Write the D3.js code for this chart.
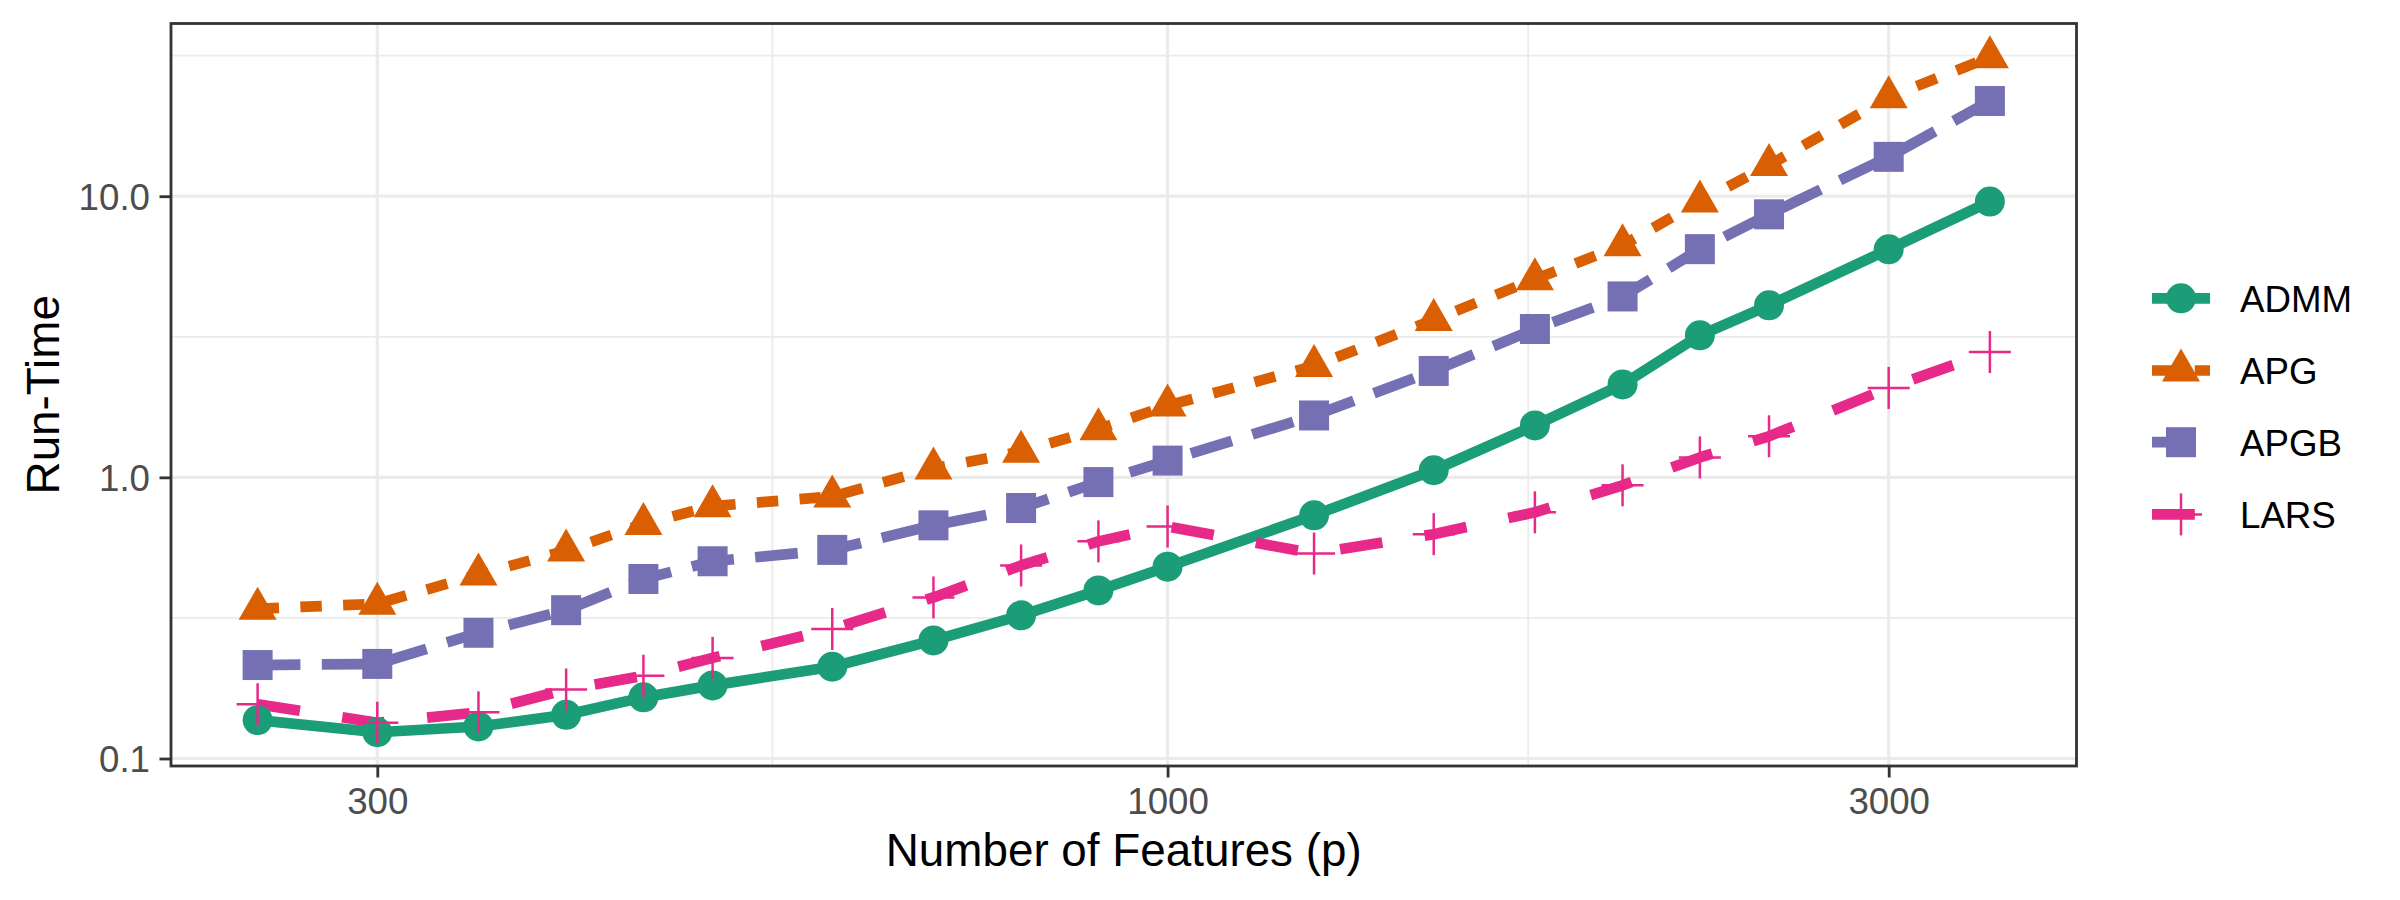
<!DOCTYPE html>
<html>
<head>
<meta charset="utf-8">
<script src="https://cdn.jsdelivr.net/npm/d3@7"></script>
<style>
  html, body { margin: 0; padding: 0; background: #ffffff; }
  svg { display: block; }
  text { font-family: "Liberation Sans", Arial, Helvetica, sans-serif; }
</style>
</head>
<body>
<svg id="chart" width="2400" height="900"></svg>
<script>
// ---------------- data ----------------
const features = [250, 300, 350, 400, 450, 500, 600, 700, 800, 900, 1000, 1250, 1500, 1750, 2000, 2250, 2500, 3000, 3500];
const admm = [0.137, 0.124, 0.130, 0.143, 0.165, 0.182, 0.212, 0.263, 0.323, 0.396, 0.481, 0.733, 1.06, 1.53, 2.14, 3.20, 4.09, 6.47, 9.57];
const apg  = [0.341, 0.355, 0.451, 0.549, 0.683, 0.790, 0.855, 1.076, 1.234, 1.484, 1.80, 2.49, 3.63, 5.07, 6.69, 9.57, 12.9, 22.5, 31.2];
const apgb = [0.215, 0.217, 0.280, 0.337, 0.435, 0.503, 0.552, 0.675, 0.778, 0.962, 1.147, 1.66, 2.39, 3.37, 4.40, 6.48, 8.62, 13.8, 21.8];
const lars = [0.156, 0.134, 0.146, 0.176, 0.197, 0.228, 0.289, 0.374, 0.486, 0.592, 0.669, 0.536, 0.628, 0.751, 0.937, 1.177, 1.40, 2.08, 2.79];
const seriesNames = ["ADMM", "APG", "APGB", "LARS"];
const xTicks = [300, 1000, 3000];
const xMinor = [547.7, 1732.1];
const yTicks = [0.1, 1, 10];
const yTickLabels = ["0.1", "1.0", "10.0"];
const yMinor = [0.3162, 3.162, 31.62];
const xTitle = "Number of Features (p)";
const yTitle = "Run-Time";

// ---------------- styles ----------------
const colors = ["#1B9E77", "#D95F02", "#7570B3", "#E7298A"];
const LW = 10.7;
const dashes = [null, [2 * LW, 2 * LW], [4 * LW, 2 * LW], [4 * LW, 4 * LW]];
const shapes = ["circle", "triangle", "square", "cross"];

const panel = { left: 171, right: 2076.5, top: 23.5, bottom: 766 };

const svg = d3.select("#chart");
svg.append("rect").attr("width", 2400).attr("height", 900).attr("fill", "#ffffff");

const allSeries = [admm, apg, apgb, lars];

// log-space expansion by 5%
function expandLog(lo, hi) {
  const a = Math.log10(lo), b = Math.log10(hi), d = (b - a) * 0.05;
  return [Math.pow(10, a - d), Math.pow(10, b + d)];
}
const xDom = expandLog(d3.min(features), d3.max(features));
const yAll = allSeries.flat();
const yDom = expandLog(d3.min(yAll), d3.max(yAll));

const x = d3.scaleLog().domain(xDom).range([panel.left, panel.right]);
const y = d3.scaleLog().domain(yDom).range([panel.bottom, panel.top]);

const g = svg.append("g");

// grid minor
g.selectAll(".xminor").data(xMinor).join("line")
  .attr("x1", d => x(d)).attr("x2", d => x(d))
  .attr("y1", panel.top).attr("y2", panel.bottom)
  .attr("stroke", "#EBEBEB").attr("stroke-width", 1.8);
g.selectAll(".yminor").data(yMinor).join("line")
  .attr("y1", d => y(d)).attr("y2", d => y(d))
  .attr("x1", panel.left).attr("x2", panel.right)
  .attr("stroke", "#EBEBEB").attr("stroke-width", 1.8);
// grid major
g.selectAll(".xmajor").data(xTicks).join("line")
  .attr("x1", d => x(d)).attr("x2", d => x(d))
  .attr("y1", panel.top).attr("y2", panel.bottom)
  .attr("stroke", "#EBEBEB").attr("stroke-width", 3.2);
g.selectAll(".ymajor").data(yTicks).join("line")
  .attr("y1", d => y(d)).attr("y2", d => y(d))
  .attr("x1", panel.left).attr("x2", panel.right)
  .attr("stroke", "#EBEBEB").attr("stroke-width", 3.2);

// lines
const lineGen = d3.line().x(d => x(d[0])).y(d => y(d[1]));
allSeries.forEach((vals, i) => {
  const pts = features.map((f, j) => [f, vals[j]]);
  const p = g.append("path").attr("d", lineGen(pts))
    .attr("fill", "none").attr("stroke", colors[i])
    .attr("stroke-width", LW).attr("stroke-linejoin", "round").attr("stroke-linecap", "butt");
  if (dashes[i]) p.attr("stroke-dasharray", dashes[i].join(","));
});

function drawMarker(sel, shape, color, cx, cy) {
  if (shape === "circle") {
    sel.append("circle").attr("cx", cx).attr("cy", cy).attr("r", 15).attr("fill", color);
  } else if (shape === "triangle") {
    sel.append("path")
      .attr("d", `M${cx},${cy - 22}L${cx + 19},${cy + 11}L${cx - 19},${cy + 11}Z`)
      .attr("fill", color);
  } else if (shape === "square") {
    sel.append("rect").attr("x", cx - 15).attr("y", cy - 15).attr("width", 30).attr("height", 30).attr("fill", color);
  } else if (shape === "cross") {
    sel.append("line").attr("x1", cx - 21).attr("x2", cx + 21).attr("y1", cy).attr("y2", cy)
      .attr("stroke", color).attr("stroke-width", 2.5);
    sel.append("line").attr("x1", cx).attr("x2", cx).attr("y1", cy - 21).attr("y2", cy + 21)
      .attr("stroke", color).attr("stroke-width", 2.5);
  }
}

// points
allSeries.forEach((vals, i) => {
  const pg = g.append("g");
  features.forEach((f, j) => drawMarker(pg, shapes[i], colors[i], x(f), y(vals[j])));
});

// panel border
svg.append("rect")
  .attr("x", panel.left).attr("y", panel.top)
  .attr("width", panel.right - panel.left).attr("height", panel.bottom - panel.top)
  .attr("fill", "none").attr("stroke", "#333333").attr("stroke-width", 2.8);

// axes (ticks + labels)
const xAxis = d3.axisBottom(x).tickValues(xTicks).tickFormat(d3.format("d"))
  .tickSizeInner(11.5).tickSizeOuter(0).tickPadding(10);
const xg = svg.append("g").attr("transform", `translate(0,${panel.bottom})`).call(xAxis);
xg.select(".domain").remove();
xg.selectAll(".tick line").attr("stroke", "#333333").attr("stroke-width", 2.8);
xg.selectAll(".tick text").attr("fill", "#4D4D4D").attr("font-size", 36.7)
  .attr("font-family", "Liberation Sans, Arial, sans-serif").attr("dy", "0.72em");

const yAxis = d3.axisLeft(y).tickValues(yTicks).tickFormat((d, i) => yTickLabels[i])
  .tickSizeInner(11.5).tickSizeOuter(0).tickPadding(9.5);
const yg = svg.append("g").attr("transform", `translate(${panel.left},0)`).call(yAxis);
yg.select(".domain").remove();
yg.selectAll(".tick line").attr("stroke", "#333333").attr("stroke-width", 2.8);
yg.selectAll(".tick text").attr("fill", "#4D4D4D").attr("font-size", 36.7)
  .attr("font-family", "Liberation Sans, Arial, sans-serif").attr("dy", "0.36em");

// axis titles
svg.append("text")
  .attr("x", (panel.left + panel.right) / 2).attr("y", 866)
  .attr("text-anchor", "middle").attr("font-size", 45.8).attr("fill", "#000000")
  .text(xTitle);
svg.append("text")
  .attr("transform", `translate(58.5,${(panel.top + panel.bottom) / 2}) rotate(-90)`)
  .attr("text-anchor", "middle").attr("font-size", 45.8).attr("fill", "#000000")
  .text(yTitle);

// legend
const legendRowY = [298.3, 370.5, 442.2, 514.4];
const keyX0 = 2152, keyX1 = 2210, keyCx = 2181, labelX = 2240;
seriesNames.forEach((name, i) => {
  const lg = svg.append("g");
  const cy = legendRowY[i];
  const ln = lg.append("line").attr("x1", keyX0).attr("x2", keyX1).attr("y1", cy).attr("y2", cy)
    .attr("stroke", colors[i]).attr("stroke-width", LW).attr("stroke-linecap", "butt");
  if (dashes[i]) ln.attr("stroke-dasharray", dashes[i].join(","));
  drawMarker(lg, shapes[i], colors[i], keyCx, cy);
  lg.append("text").attr("x", labelX).attr("y", cy).attr("dy", "0.37em")
    .attr("font-size", 36.7).attr("fill", "#000000").text(name);
});
</script>
</body>
</html>
